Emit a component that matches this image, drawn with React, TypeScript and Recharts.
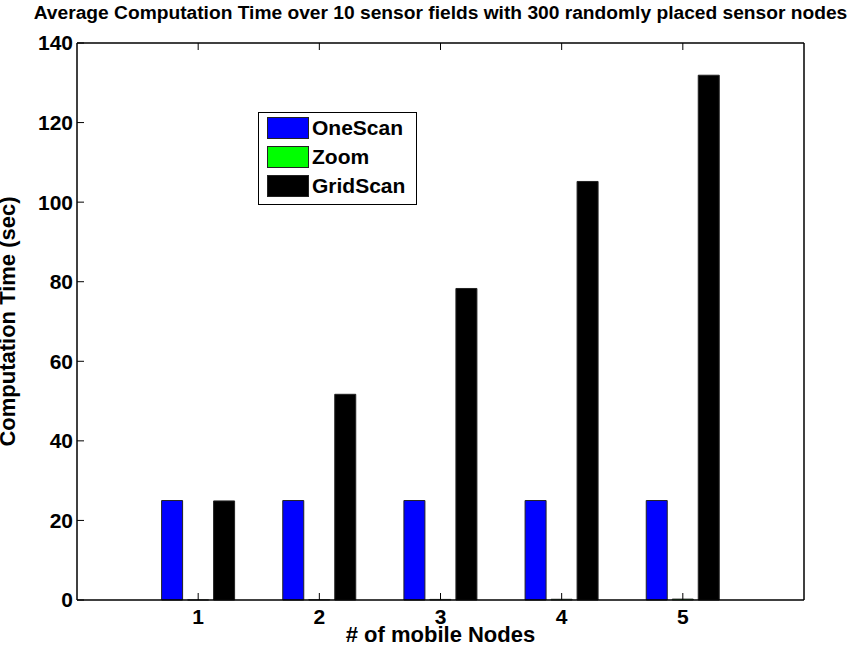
import {
  BarChart,
  Bar,
  XAxis,
  YAxis,
  Legend,
} from 'recharts';

const categories = ['1', '2', '3', '4', '5'];
const seriesNames = ['OneScan', 'Zoom', 'GridScan'];
const oneScan = [25, 25, 25, 25, 25];
const zoom = [0.02, 0.1, 0.15, 0.2, 0.25];
const gridScan = [24.9, 51.7, 78.3, 105.2, 131.9];
const yTicks = [0, 20, 40, 60, 80, 100, 120, 140];

const data = categories.map((nodes, i) => ({
  nodes,
  OneScan: oneScan[i],
  Zoom: zoom[i],
  GridScan: gridScan[i],
}));

const FONT = '"Liberation Sans", Arial, Helvetica, sans-serif';
const tickStyle = { fontSize: 21, fontWeight: 700, fill: '#000', fontFamily: FONT };

// keep the legend in series order instead of the default alphabetical sort
function LegendBox({ payload }: any) {
  const items = [...(payload || [])].sort(
    (a: any, b: any) => seriesNames.indexOf(a.value) - seriesNames.indexOf(b.value)
  );
  return (
    <div
      style={{
        border: '1px solid #000',
        background: '#fff',
        width: 149,
        padding: '0 0 4px 8px',
        boxSizing: 'content-box',
        fontFamily: FONT,
      }}
    >
      {items.map((entry: any) => (
        <div key={entry.value} style={{ display: 'flex', alignItems: 'center', height: 29 }}>
          <span
            style={{
              display: 'inline-block',
              width: 40,
              height: 20,
              background: entry.color,
              border: '1px solid #222',
            }}
          />
          <span style={{ marginLeft: 3, fontSize: 21, fontWeight: 700, color: '#000' }}>
            {entry.value}
          </span>
        </div>
      ))}
    </div>
  );
}

export default function App() {
  return (
    <div style={{ position: 'absolute', left: 0, top: 0, width: 853, height: 650, background: '#fff' }}>
      <BarChart
        width={853}
        height={650}
        data={data}
        margin={{ top: 42, right: 48, bottom: 20, left: 0 }}
        barSize={21}
        barGap={5}
      >
        <XAxis
          dataKey="nodes"
          height={30}
          padding={{ left: 60.6, right: 60.6 }}
          stroke="#000"
          strokeWidth={1.5}
          tickSize={-7}
          tickMargin={16}
          tick={tickStyle}
          tickLine={{ stroke: '#000', strokeWidth: 1 }}
          label={{
            content: ({ viewBox }: any) => (
              <text
                x={viewBox.x + viewBox.width / 2}
                y={642}
                textAnchor="middle"
                fontSize={22}
                fontWeight={700}
                fontFamily={FONT}
                fill="#000"
              >
                # of mobile Nodes
              </text>
            ),
          }}
        />
        <XAxis
          xAxisId="top"
          dataKey="nodes"
          orientation="top"
          height={1}
          padding={{ left: 60.6, right: 60.6 }}
          stroke="#000"
          strokeWidth={1.5}
          tickSize={-7}
          tickFormatter={() => ''}
          tickLine={{ stroke: '#000', strokeWidth: 1 }}
        />
        <YAxis
          width={77}
          domain={[0, 140]}
          ticks={yTicks}
          interval={0}
          stroke="#000"
          strokeWidth={1.5}
          tickSize={-7}
          tickMargin={11}
          tick={tickStyle}
          tickLine={{ stroke: '#000', strokeWidth: 1 }}
          label={{
            content: ({ viewBox }: any) => {
              const cx = viewBox.x + 15;
              const cy = viewBox.y + viewBox.height / 2;
              return (
                <g>
                  <text
                    x={cx}
                    y={cy}
                    transform={`rotate(-90, ${cx}, ${cy})`}
                    textAnchor="middle"
                    fontSize={22}
                    fontWeight={700}
                    fontFamily={FONT}
                    fill="#000"
                  >
                    Computation Time (sec)
                  </text>
                  <text
                    x={440.5}
                    y={19}
                    textAnchor="middle"
                    fontSize={19.2}
                    fontWeight={700}
                    fontFamily={FONT}
                    fill="#000"
                  >
                    Average Computation Time over 10 sensor fields with 300 randomly placed sensor nodes
                  </text>
                </g>
              );
            },
          }}
        />
        <YAxis
          yAxisId="right"
          orientation="right"
          width={1}
          domain={[0, 140]}
          ticks={yTicks}
          interval={0}
          stroke="#000"
          strokeWidth={1.5}
          tickSize={-7}
          tickFormatter={() => ''}
          tickLine={{ stroke: '#000', strokeWidth: 1 }}
        />
        <Legend
          layout="horizontal"
          align="center"
          verticalAlign="middle"
          wrapperStyle={{ left: 258, top: 112, width: 'auto' }}
          content={<LegendBox />}
        />
        <Bar dataKey="OneScan" name="OneScan" fill="#0000ff" stroke="#222" strokeWidth={1} isAnimationActive={false} />
        <Bar dataKey="Zoom" name="Zoom" fill="#00ff00" stroke="#555" strokeWidth={1} isAnimationActive={false} />
        <Bar dataKey="GridScan" name="GridScan" fill="#000000" stroke="#222" strokeWidth={1} isAnimationActive={false} />
      </BarChart>
    </div>
  );
}
